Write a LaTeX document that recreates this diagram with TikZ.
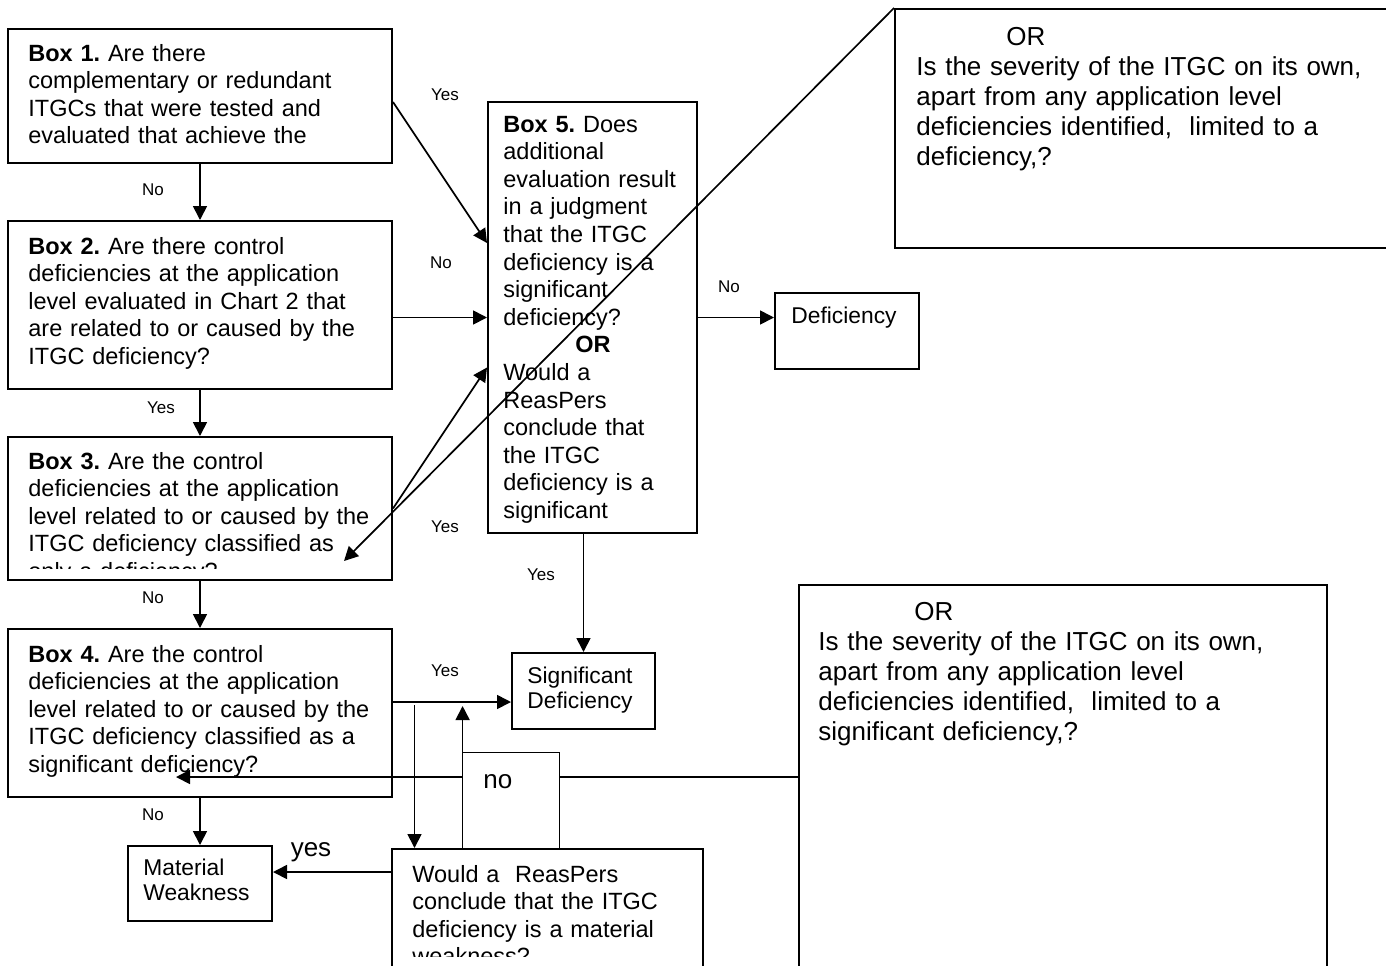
\documentclass[tikz,border=0pt]{standalone}
\usepackage{fontspec}
\setmainfont{Liberation Sans}
\frenchspacing
\usetikzlibrary{
    arrows.meta,
    positioning,
    calc,
    fit
}

\begin{document}
\begin{tikzpicture}[
    x=0.5pt, y=-0.5pt,
    box/.style={draw, line width=1pt, inner sep=0pt},
    txt/.style={anchor=base west, inner sep=0pt, align=left, text width=#1, font=\fontsize{11.75}{13.8}\selectfont},
    txt/.default=190pt,
    small/.style={anchor=base west, inner sep=0pt, align=left, text width=70pt, font=\fontsize{11.4}{12.6}\selectfont},
    note/.style={anchor=base west, inner sep=0pt, align=left, text width=250pt, font=\fontsize{13}{15}\selectfont},
    lbl/.style={inner sep=0pt, font=\fontsize{8.5}{10}\selectfont},
    biglbl/.style={inner sep=0pt, font=\fontsize{13}{15}\selectfont},
    arrow/.style={-{Triangle[length=7pt, width=7pt]}, line width=0.85pt},
    line/.style={line width=0.85pt},
]
\useasboundingbox (0,0) rectangle (1386,965);

% Question boxes
\node[box, fit={(8,29) (392,163)}] (b1) {};
\node[box, fit={(8,221) (392,389)}] (b2) {};
\node[box, fit={(8,437) (392,580)}] (b3) {};
\node[box, fit={(8,629) (392,797)}] (b4) {};
\node[box, fit={(488,102) (697,533)}] (b5) {};

\node[txt] (t1) at (28,61) {\textbf{Box 1.} Are there\\complementary or redundant\\ITGCs that were tested and\\evaluated that achieve the};
\node[txt] (t2) at (28,254) {\textbf{Box 2.} Are there control\\deficiencies at the application\\level evaluated in Chart 2 that\\are related to or caused by the\\ITGC deficiency?};
\begin{scope}
\clip (8,437) rectangle (392,568);
\node[txt] (t3) at (28,469) {\textbf{Box 3.} Are the control\\deficiencies at the application\\level related to or caused by the\\ITGC deficiency classified as\\only a deficiency?};
\end{scope}
\node[txt] (t4) at (28,662) {\textbf{Box 4.} Are the control\\deficiencies at the application\\level related to or caused by the\\ITGC deficiency classified as a\\significant deficiency?};
\node[txt=100pt] (t5) at (503,132) {\textbf{Box 5.} Does\\additional\\evaluation result\\in a judgment\\that the ITGC\\deficiency is a\\significant\\deficiency?\\\hspace*{36pt}\textbf{OR}\\Would a\\ReasPers\\conclude that\\the ITGC\\deficiency is a\\significant};

% Outcome boxes
\node[box, fit={(775,293) (919,369)}] (def) {};
\node[box, fit={(512,653) (655,729)}] (sd) {};
\node[box, fit={(128,846) (272,921)}] (mw) {};
\node[box, fit={(392,849) (703,1000)}] (wd) {};
\node[small] (tdef) at (791,323) {Deficiency};
\node[small] (tsd) at (527,683) {Significant\\Deficiency};
\node[small] (tmw) at (143,875) {Material\\Weakness};
\begin{scope}
\clip (392,849) rectangle (703,956);
\node[txt=160pt] (twd) at (412,882) {Would a~ ReasPers\\conclude that the ITGC\\deficiency is a material\\weakness?};
\end{scope}

% Side notes
\node[box, fit={(895,9) (1400,248)}] (tor) {};
\node[box, fit={(799,585) (1327,969)}] (bor) {};
\node[note] (ttor) at (916,45) {\hspace*{45pt}OR\\Is the severity of the ITGC on its own,\\apart from any application level\\deficiencies identified,~ limited to a\\deficiency,?};
\node[note] (tbor) at (818,620) {\hspace*{48pt}OR\\Is the severity of the ITGC on its own,\\apart from any application level\\deficiencies identified,~ limited to a\\significant deficiency,?};

% Main flow
\draw[arrow] (b1.south) -- (b2.north);
\draw[arrow] (b2.south) -- (b3.north);
\draw[arrow] (b3.south) -- (b4.north);
\draw[arrow] (b4.south) -- (mw.north);
\draw[arrow] ($(b1.east)+(0,6)$) -- ($(b5.west)+(0,-74.5)$);
\draw[arrow] (b5.west -| b2.east) -- (b5.west);
\draw[arrow] (b3.east) -- ($(b5.west)+(0,50)$);
\draw[arrow] (tor.north west) -- ($(b3.south east)+(-49,-20)$);
\draw[arrow] (b5.east) -- (b5.east -| def.west);
\draw[arrow] (sd.north |- b5.south) -- (sd.north);

% Box 4 branch
\coordinate (j) at ($(sd.west)+(0,11)$);
\draw[arrow] (j -| b4.east) -- (j);
\draw[arrow] ($(j -| wd.north west)+(23.5,3)$) -- ($(wd.north west)+(23.5,0)$);
\node[fit={(463,753) (559,849)}, inner sep=0pt] (nb) {};
\draw[arrow] (nb.south west) -- ($(nb.west |- j)+(0,4)$);
\draw[line] (nb.south east) -- (nb.north east) -- (nb.north west);
\draw[line] (bor.west) -- (bor.west -| nb.east);
\draw[arrow] (bor.west -| nb.west) -- ($(bor.west -| b4.center)+(-24,0)$);
\coordinate (k) at ($(wd.north west)+(0,24)$);
\draw[arrow] (k) -- (k -| mw.east);

% Labels
\node[lbl] (l1) at (445,95) {Yes};
\node[lbl] (l2) at (153,190) {No};
\node[lbl] (l3) at (441,263) {No};
\node[lbl] (l4) at (161,408) {Yes};
\node[lbl] (l5) at (445,527) {Yes};
\node[lbl] (l6) at (153,598) {No};
\node[lbl] (l7) at (729,287) {No};
\node[lbl] (l8) at (541,575) {Yes};
\node[lbl] (l9) at (445,671) {Yes};
\node[lbl] (l10) at (153,815) {No};
\node[biglbl, anchor=base west] (l11) at (483,788) {no};
\node[biglbl] (l12) at (311,852) {yes};
\end{tikzpicture}
\end{document}
